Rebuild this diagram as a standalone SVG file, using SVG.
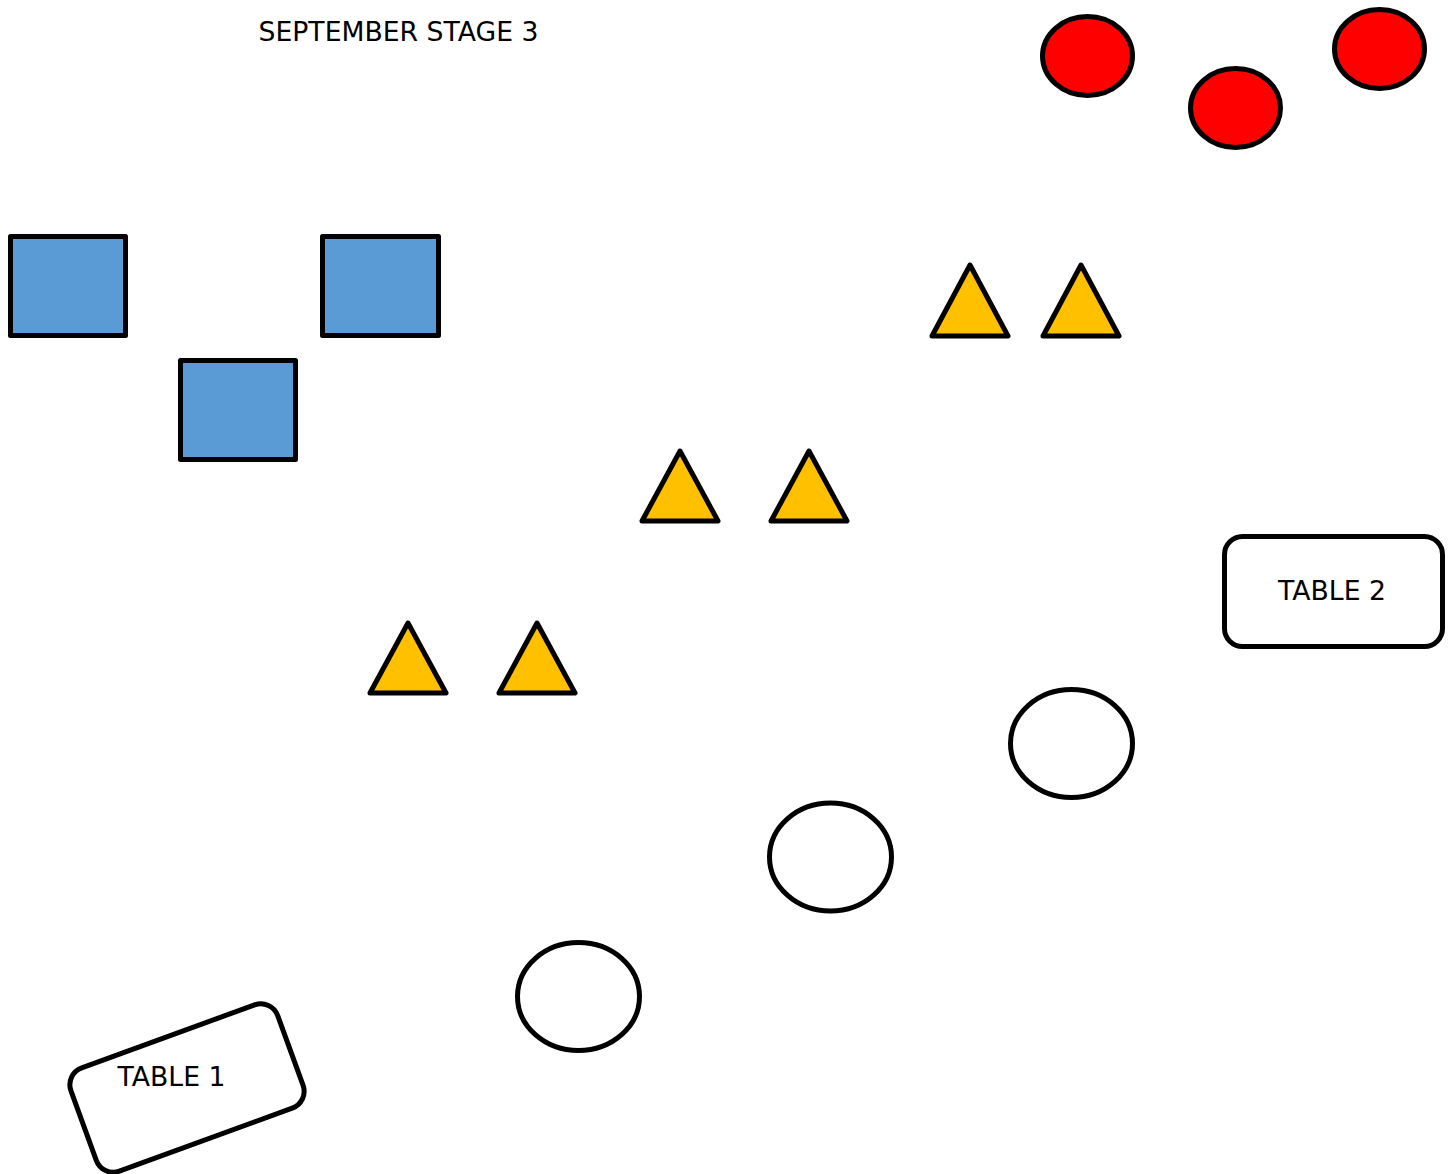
<svg xmlns="http://www.w3.org/2000/svg" width="1452" height="1174" viewBox="0 0 1452 1174">
<style>
.s{stroke:#000;stroke-width:5;stroke-linejoin:round}
.sq{fill:#5b9bd5}
.tri{fill:#ffc000}
.red{fill:#ff0000}
.wh{fill:#fff}
.t{font-family:"DejaVu Sans",sans-serif;font-size:26.67px;fill:#000;text-anchor:middle}
</style>
<rect width="1452" height="1174" fill="#fff"/>
<g id="title"><text class="t" x="398.5" y="41">SEPTEMBER STAGE 3</text></g>
<g id="red1"><ellipse class="s red" cx="1087.5" cy="56" rx="45" ry="39.5"/></g>
<g id="red2"><ellipse class="s red" cx="1235.5" cy="108" rx="45" ry="39.5"/></g>
<g id="red3"><ellipse class="s red" cx="1379.5" cy="49" rx="45" ry="39.5"/></g>
<g id="sq1"><rect class="s sq" x="10.5" y="236.5" width="115" height="99"/></g>
<g id="sq2"><rect class="s sq" x="322.5" y="236.5" width="116" height="99"/></g>
<g id="sq3"><rect class="s sq" x="180.5" y="360.5" width="115" height="99"/></g>
<g id="tri1"><polygon class="s tri" points="970,265 1008,336 932,336"/></g>
<g id="tri2"><polygon class="s tri" points="1081,265 1119,336 1043,336"/></g>
<g id="tri3"><polygon class="s tri" points="680,451 718,521 642,521"/></g>
<g id="tri4"><polygon class="s tri" points="809,451 847,521 771,521"/></g>
<g id="tri5"><polygon class="s tri" points="408,623 446,693 370,693"/></g>
<g id="tri6"><polygon class="s tri" points="537,623 575,693 499,693"/></g>
<g id="table2"><rect class="s wh" x="1224.5" y="536.5" width="218" height="110" rx="18"/><text class="t" x="1332" y="599.5">TABLE 2</text></g>
<g id="circ1"><ellipse class="s wh" cx="1071.5" cy="743.5" rx="61" ry="54"/></g>
<g id="circ2"><ellipse class="s wh" cx="830.5" cy="857" rx="61" ry="54"/></g>
<g id="circ3"><ellipse class="s wh" cx="578.5" cy="996.5" rx="61" ry="54"/></g>
<g id="table1"><rect class="s wh" x="-110" y="-55" width="220" height="110" rx="18" transform="translate(187 1088) rotate(-20)"/><text class="t" x="171.5" y="1086">TABLE 1</text></g>
<g id="connectors"></g>
</svg>
